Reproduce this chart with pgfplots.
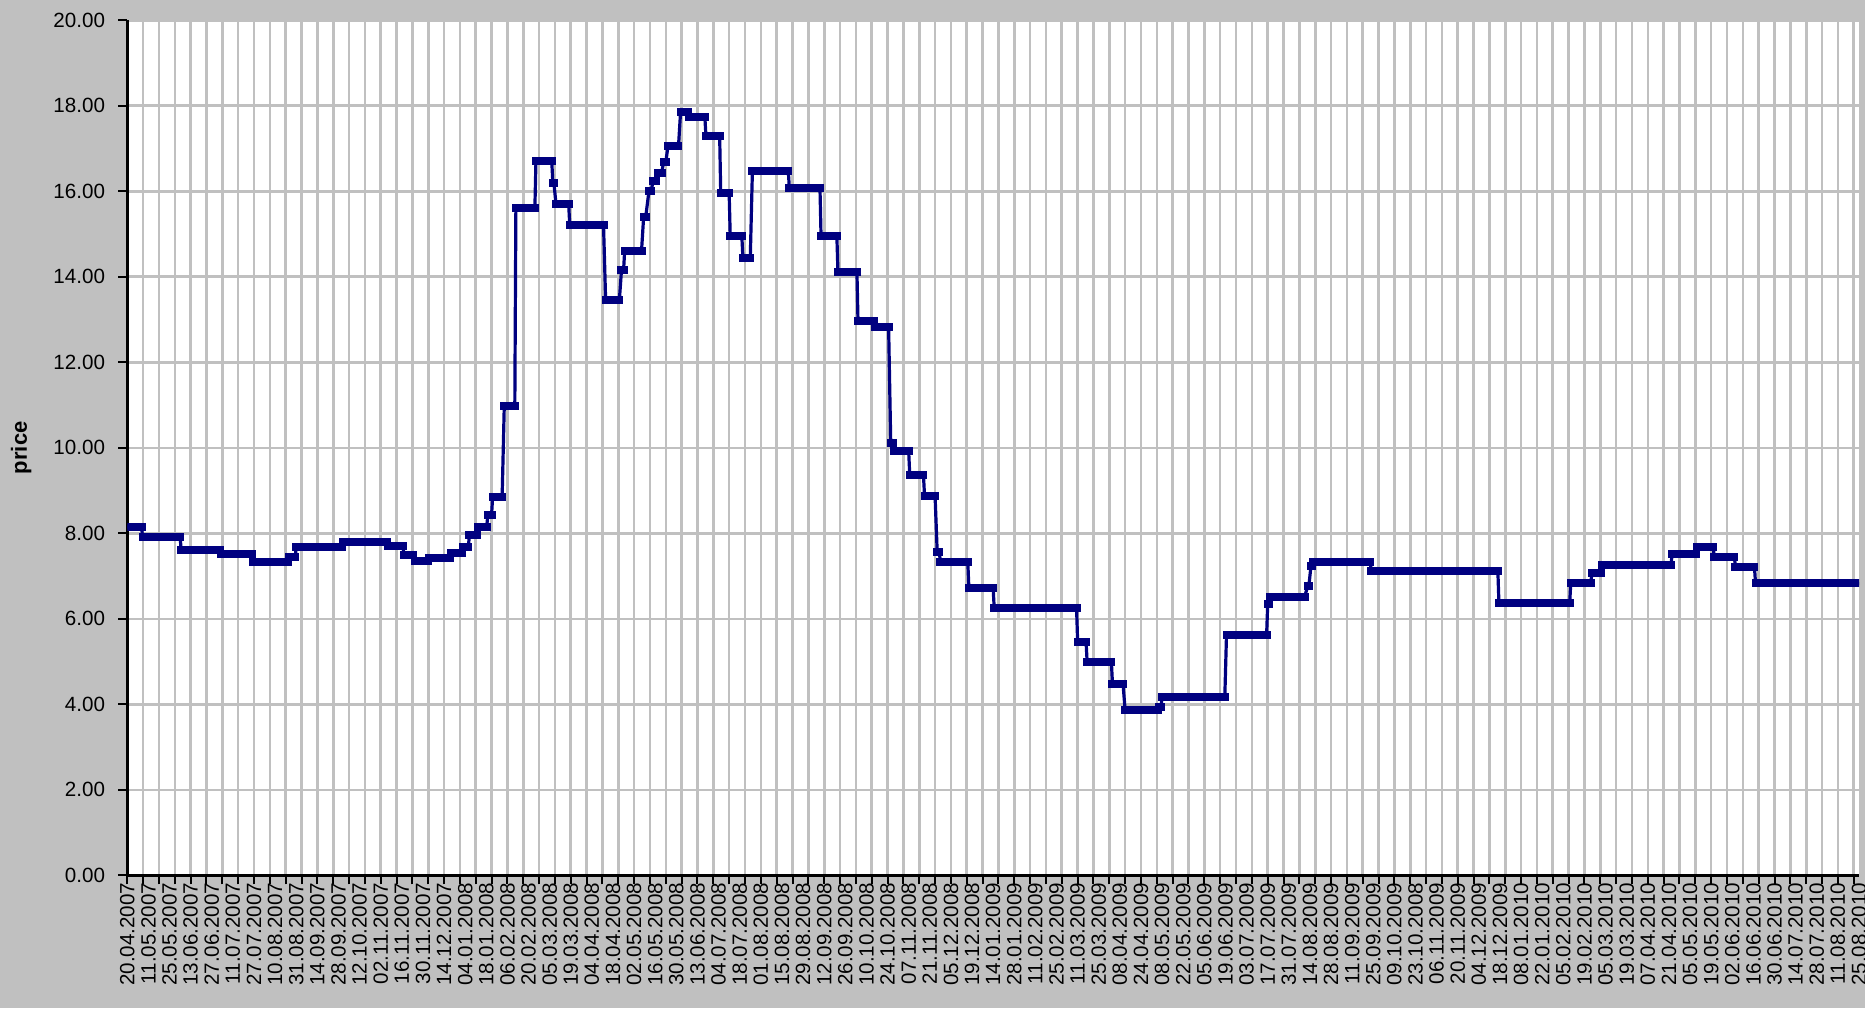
\documentclass[border=0pt]{standalone}
\usepackage{pgfplots}
\pgfplotsset{compat=1.18}
\usepackage{pgfplotstable}
\usepackage{fontspec}
\setmainfont{Liberation Sans}
\definecolor{bggray}{HTML}{C0C0C0}
\definecolor{navyline}{HTML}{000080}

\pgfplotstableread{
x y
0 8.15
0.68 8.15
nan nan
0.72 7.92
2.5 7.92
nan nan
2.55 7.62
4.4 7.62
nan nan
4.45 7.52
5.9 7.52
nan nan
5.95 7.33
7.6 7.33
nan nan
7.65 7.45
7.95 7.45
nan nan
8.0 7.67
10.15 7.67
nan nan
10.2 7.79
12.3 7.79
nan nan
12.35 7.70
13.05 7.70
nan nan
13.1 7.49
13.55 7.49
nan nan
13.6 7.35
14.25 7.35
nan nan
14.3 7.42
15.28 7.42
nan nan
15.33 7.54
15.83 7.54
nan nan
15.88 7.69
16.15 7.69
nan nan
16.2 7.95
16.54 7.95
nan nan
16.6 8.15
17.02 8.15
nan nan
17.07 8.43
17.25 8.43
nan nan
17.3 8.86
17.75 8.86
nan nan
17.85 10.97
18.35 10.97
nan nan
18.4 15.6
19.3 15.6
nan nan
19.35 16.7
20.1 16.7
nan nan
20.15 16.2
20.2 16.2
nan nan
20.3 15.7
20.9 15.7
nan nan
20.95 15.22
22.55 15.22
nan nan
22.65 13.45
23.3 13.45
nan nan
23.4 14.15
23.5 14.15
nan nan
23.55 14.6
24.35 14.6
nan nan
24.45 15.4
24.55 15.4
nan nan
24.7 16.0
24.8 16.0
nan nan
24.9 16.23
25.05 16.23
nan nan
25.15 16.43
25.3 16.43
nan nan
25.4 16.68
25.5 16.68
nan nan
25.6 17.05
26.1 17.05
nan nan
26.2 17.86
26.55 17.86
nan nan
26.6 17.73
27.35 17.73
nan nan
27.4 17.29
28.05 17.29
nan nan
28.1 15.95
28.5 15.95
nan nan
28.55 14.95
29.1 14.95
nan nan
29.15 14.45
29.5 14.45
nan nan
29.6 16.47
31.3 16.47
nan nan
31.35 16.08
32.8 16.08
nan nan
32.85 14.95
33.6 14.95
nan nan
33.65 14.12
34.55 14.12
nan nan
34.6 12.97
35.35 12.97
nan nan
35.4 12.83
36.05 12.83
nan nan
36.15 10.12
36.25 10.12
nan nan
36.3 9.92
37.0 9.92
nan nan
37.05 9.37
37.7 9.37
nan nan
37.75 8.88
38.25 8.88
nan nan
38.35 7.57
38.45 7.57
nan nan
38.5 7.33
39.8 7.33
nan nan
39.85 6.72
41.0 6.72
nan nan
41.05 6.25
44.95 6.25
nan nan
45.0 5.47
45.4 5.47
nan nan
45.45 4.99
46.6 4.99
nan nan
46.65 4.48
47.15 4.48
nan nan
47.25 3.86
48.8 3.86
nan nan
48.85 3.95
48.95 3.95
nan nan
49.0 4.17
51.97 4.17
nan nan
52.05 5.63
53.95 5.63
nan nan
54.0 6.34
54.05 6.34
nan nan
54.1 6.52
55.75 6.52
nan nan
55.9 6.77
55.95 6.77
nan nan
56.05 7.24
56.1 7.24
nan nan
56.15 7.34
58.85 7.34
nan nan
58.9 7.12
64.9 7.12
nan nan
64.95 6.36
68.3 6.36
nan nan
68.35 6.83
69.3 6.83
nan nan
69.35 7.07
69.8 7.07
nan nan
69.85 7.27
73.1 7.27
nan nan
73.15 7.52
74.3 7.52
nan nan
74.35 7.67
75.1 7.67
nan nan
75.15 7.44
76.1 7.44
nan nan
76.15 7.22
77.05 7.22
nan nan
77.1 6.83
82 6.83
}\pricedata

\begin{document}
\fontsize{10.3}{12}\selectfont
\begin{tikzpicture}
\fill[bggray] (-63.65pt,-66.3pt) rectangle (868.85pt,437.7pt);
\useasboundingbox (-63.65pt,-66.3pt) rectangle (868.85pt,437.7pt);
\begin{axis}[
  at={(0,0)}, anchor=south west,
  scale only axis, width=865.85pt, height=427.6pt,
  xmin=0, xmax=82, ymin=0, ymax=20,
  axis x line*=bottom, axis y line*=left,
  axis line style={black, line width=1.5pt},
  axis background/.style={fill=white},
  ytick={0,2,...,20},
  /pgf/number format/fixed,
  /pgf/number format/fixed zerofill,
  /pgf/number format/precision=2,
  /pgf/number format/assume math mode=true,
  ymajorgrids, xmajorgrids,
  major grid style={bggray, line width=1.3pt},
  xtick={0,0.75,...,82}, xticklabels={},
  tick align=outside, major tick length=4.5pt,
  tick style={black, line width=1pt},
  tick label style={font=\fontsize{10.3}{12}\selectfont, black},
  yticklabel style={xshift=-3pt},
  extra x ticks={0,1,...,82},
  extra x tick labels={20.04.2007,11.05.2007,25.05.2007,13.06.2007,27.06.2007,11.07.2007,27.07.2007,10.08.2007,31.08.2007,14.09.2007,28.09.2007,12.10.2007,02.11.2007,16.11.2007,30.11.2007,14.12.2007,04.01.2008,18.01.2008,06.02.2008,20.02.2008,05.03.2008,19.03.2008,04.04.2008,18.04.2008,02.05.2008,16.05.2008,30.05.2008,13.06.2008,04.07.2008,18.07.2008,01.08.2008,15.08.2008,29.08.2008,12.09.2008,26.09.2008,10.10.2008,24.10.2008,07.11.2008,21.11.2008,05.12.2008,19.12.2008,14.01.2009,28.01.2009,11.02.2009,25.02.2009,11.03.2009,25.03.2009,08.04.2009,24.04.2009,08.05.2009,22.05.2009,05.06.2009,19.06.2009,03.07.2009,17.07.2009,31.07.2009,14.08.2009,28.08.2009,11.09.2009,25.09.2009,09.10.2009,23.10.2008,06.11.2009,20.11.2009,04.12.2009,18.12.2009,08.01.2010,22.01.2010,05.02.2010,19.02.2010,05.03.2010,19.03.2010,07.04.2010,21.04.2010,05.05.2010,19.05.2010,02.06.2010,16.06.2010,30.06.2010,14.07.2010,28.07.2010,11.08.2010,25.08.2010},
  extra x tick style={major tick length=0pt, grid=none,
    tick label style={rotate=90, anchor=east}},
  ylabel={price},
  every axis y label/.style={at={(axis description cs:0,0.5)}, xshift=-53pt, rotate=90, anchor=center, font=\fontsize{11}{13}\selectfont\bfseries},
]
\addplot[navyline, line width=1.6pt, unbounded coords=discard, mark=none] table {\pricedata};
\addplot[navyline, line width=4pt, line cap=rect, unbounded coords=jump, mark=none] table {\pricedata};
\end{axis}
\end{tikzpicture}
\end{document}
